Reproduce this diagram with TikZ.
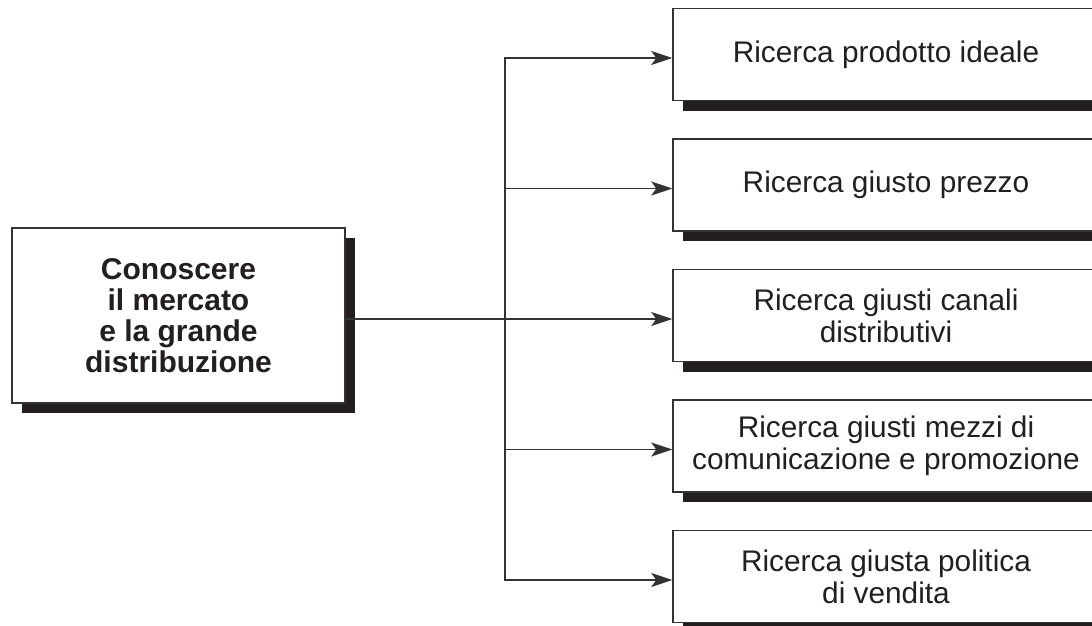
\documentclass[tikz,border=0pt]{standalone}
\usepackage{fontspec}
\setmainfont{Liberation Sans}
\usetikzlibrary{arrows.meta,shadows}
\definecolor{ink}{HTML}{231F20}
\definecolor{rule}{HTML}{333333}
\begin{document}
\begin{tikzpicture}[x=1pt,y=-1pt,
  box/.style={draw=rule, line width=1.5pt, fill=white, text=ink, align=center, inner sep=0pt,
    drop shadow={shadow xshift=10pt, shadow yshift=-10pt, fill=ink, opacity=1, draw=none}},
  sidebox/.style={box, minimum width=426pt, minimum height=92pt,
    font=\fontsize{29.8}{32}\selectfont},
  mainbox/.style={box, minimum width=333pt, minimum height=175pt,
    font=\bfseries\fontsize{30}{31}\selectfont},
  link/.style={draw=rule, line width=1.5pt, line join=miter},
  arr/.style={link, -{Stealth[length=21pt, width=14pt, inset=5pt]}}
]
\useasboundingbox (0,0) rectangle (1092,626);
\clip (0,0) rectangle (1092,626);

% source box
\node[mainbox] (know) at (178.5,315.5) {Conoscere\\il mercato\\e la grande\\distribuzione};

% target boxes
\node[sidebox] (r1) at (886,54.5)  {Ricerca prodotto ideale};
\node[sidebox] (r2) at (886,185)   {Ricerca giusto prezzo};
\node[sidebox] (r3) at (886,315.5) {Ricerca giusti canali\\distributivi};
\node[sidebox] (r4) at (886,446)   {Ricerca giusti mezzi di\\comunicazione e promozione};
\node[sidebox] (r5) at (886,576.5) {Ricerca giusta politica\\di vendita};

% junctions on the vertical bus
\coordinate (j1) at (505,58);
\coordinate (j2) at (505,188.5);
\coordinate (j3) at (505,319);
\coordinate (j4) at (505,449.5);
\coordinate (j5) at (505,580);

% connectors
\draw[arr] (know.east |- j3) -- (j3 -| r3.west);
\draw[arr] (j3) -- (j1) -- (j1 -| r1.west);
\draw[arr] (j3) -- (j5) -- (j5 -| r5.west);
\draw[arr] (j2) -- (j2 -| r2.west);
\draw[arr] (j4) -- (j4 -| r4.west);
\end{tikzpicture}
\end{document}
